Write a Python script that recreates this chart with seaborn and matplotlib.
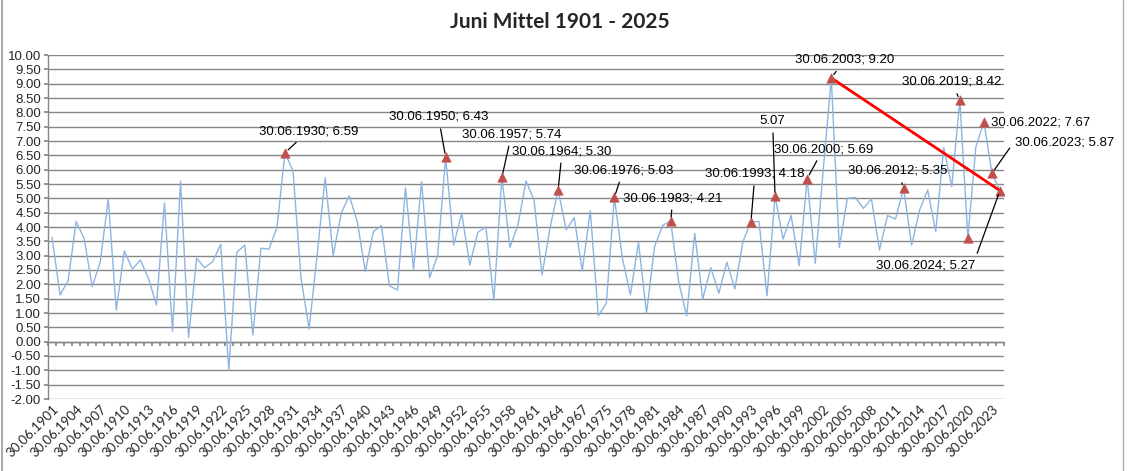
import numpy as np
import pandas as pd
import matplotlib
matplotlib.use("Agg")
import matplotlib.pyplot as plt
from matplotlib.lines import Line2D
import seaborn as sns

# ---------------- data ----------------
years = list(range(1901, 1970)) + list(range(1975, 2025))
temps = [3.64, 1.63, 2.12, 4.19, 3.60, 1.92, 2.77, 4.98, 1.10, 3.17,
         2.53, 2.85, 2.21, 1.28, 4.83, 0.37, 5.60, 0.15, 2.91, 2.58,
         2.79, 3.40, -0.99, 3.12, 3.37, 0.23, 3.26, 3.23, 3.98, 6.59,
         5.95, 2.21, 0.44, 3.02, 5.72, 3.00, 4.48, 5.09, 4.19, 2.44,
         3.84, 4.05, 1.95, 1.80, 5.37, 2.53, 5.58, 2.23, 3.00, 6.43,
         3.37, 4.48, 2.67, 3.81, 4.01, 1.45, 5.74, 3.29, 4.07, 5.60,
         4.94, 2.33, 3.98, 5.30, 3.90, 4.33, 2.47, 4.57, 0.90, 1.34,
         5.03, 2.91, 1.63, 3.47, 0.99, 3.31, 4.05, 4.21, 2.09, 0.90,
         3.78, 1.49, 2.58, 1.69, 2.77, 1.84, 3.49, 4.18, 4.19, 1.60,
         5.07, 3.58, 4.40, 2.65, 5.69, 2.73, 6.00, 9.20, 3.28, 5.00,
         5.03, 4.65, 4.98, 3.20, 4.40, 4.28, 5.35, 3.37, 4.59, 5.29,
         3.84, 6.77, 5.41, 8.42, 3.63, 6.80, 7.67, 5.87, 5.27]
date_labels = [f"30.06.{y}" for y in years]
marked_years = [1930, 1950, 1957, 1964, 1976, 1983, 1993, 1996, 2000,
                2003, 2012, 2019, 2020, 2022, 2023, 2024]
value_only_years = [1996]
trend_years = [2003, 2024]
y_ticks = [-2.0, -1.5, -1.0, -0.5, 0.0, 0.5, 1.0, 1.5, 2.0, 2.5, 3.0, 3.5,
           4.0, 4.5, 5.0, 5.5, 6.0, 6.5, 7.0, 7.5, 8.0, 8.5, 9.0, 9.5, 10.0]
title = "Juni Mittel 1901 - 2025"

# label placement (text centre in axis data coordinates) -- layout only
label_pos = {1930: (31.9, 7.34), 1950: (48.1, 7.84), 1957: (57.2, 7.24),
             1964: (63.5, 6.65), 1976: (71.1, 5.98), 1983: (77.3, 5.01),
             1993: (87.5, 5.85), 1996: (89.7, 7.70), 2000: (96.0, 6.72),
             2003: (98.7, 9.83), 2012: (105.3, 5.96), 2019: (112.0, 9.06),
             2022: (123.1, 7.66), 2023: (126.0, 6.96), 2024: (108.7, 2.67)}
no_leader = [2022]
elbow_leader = {2024: "angle,angleA=0,angleB=70,rad=0",
                2023: "angle,angleA=0,angleB=55,rad=0"}

df = pd.DataFrame({"pos": np.arange(len(years)), "year": years,
                   "temp": temps, "label": date_labels})

# ---------------- style ----------------
sns.set_theme(style="white")
plt.rcParams["font.family"] = ["Liberation Sans", "DejaVu Sans"]
GRID = "#868686"

fig = plt.figure(figsize=(11.27, 4.71), dpi=100)
ax = fig.add_axes([48 / 1127, 1 - 399 / 471, (1004 - 48) / 1127, (399 - 55) / 471])

sns.lineplot(data=df, x="pos", y="temp", ax=ax, color="#8DB4E2",
             linewidth=1.0, sort=False, zorder=3)
mk = df[df["year"].isin(marked_years)]
sns.scatterplot(data=mk, x="pos", y="temp", ax=ax, marker="^", s=45,
                color="#C0504D", edgecolor="#C0504D", linewidth=0.5, zorder=5)
tr = df[df["year"].isin(trend_years)]
sns.lineplot(data=tr, x="pos", y="temp", ax=ax, color="#FF0000",
             linewidth=2.0, sort=False, zorder=4)

n = len(years)
ax.set_xlim(-0.5, n - 0.5)
ax.set_ylim(-2, 10)
ax.set_xlabel("")
ax.set_ylabel("")

ax.set_yticks(y_ticks)
ax.set_yticklabels([f"{v:.2f}" for v in y_ticks], fontsize=9.5,
                   family=["Liberation Sans", "DejaVu Sans"])
ax.tick_params(axis="y", direction="out", length=3, color=GRID, pad=2,
               left=True)
ax.yaxis.grid(True, color=GRID, linewidth=1.0)
ax.xaxis.grid(False)
for s in ["top", "right"]:
    ax.spines[s].set_visible(False)
ax.spines["left"].set_color(GRID)
ax.spines["left"].set_linewidth(1.0)
ax.spines["bottom"].set_position(("data", 0))
ax.spines["bottom"].set_color(GRID)
ax.spines["bottom"].set_linewidth(1.0)
ax.set_xticks(np.arange(-0.5, n, 1.0))
ax.tick_params(axis="x", direction="out", length=3, color=GRID,
               labelbottom=False, bottom=True)

sec = ax.secondary_xaxis("bottom")
sec.set_xticks(df["pos"].values[::3], labels=df["label"].values[::3])
sec.tick_params(length=0, pad=3)
sec.spines["bottom"].set_visible(False)
for lab in sec.get_xticklabels():
    lab.set_rotation(45)
    lab.set_ha("right")
    lab.set_rotation_mode("anchor")
    lab.set_fontsize(9.5)
    lab.set_family(["Lato", "DejaVu Sans"])

# annotations
for _, r in mk.iterrows():
    yr = r["year"]
    if yr not in label_pos:
        continue
    txt = f"{r['temp']:.2f}" if yr in value_only_years else f"{r['label']}; {r['temp']:.2f}"
    if yr in no_leader:
        arrow = None
    else:
        arrow = dict(arrowstyle="-", color="black", lw=0.9, shrinkA=2, shrinkB=3)
        if yr in elbow_leader:
            arrow["connectionstyle"] = elbow_leader[yr]
    ax.annotate(txt, xy=(r["pos"], r["temp"]), xytext=label_pos[yr],
                ha="center", va="center", fontsize=9.5, color="black",
                arrowprops=arrow, annotation_clip=False, zorder=6)

fig.text(560 / 1127, 1 - 22 / 471, title, ha="center", va="center",
         fontsize=15, fontweight="bold", family=["Lato", "DejaVu Sans"])

# outer frame lines of the sheet screenshot
fig.add_artist(Line2D([1.5 / 1127, 1.5 / 1127], [0, 1], transform=fig.transFigure,
                      color="#9A9A9A", lw=1.2))
fig.add_artist(Line2D([1123 / 1127, 1123 / 1127], [0, 1], transform=fig.transFigure,
                      color="#B0B0B0", lw=1.0))

fig.savefig("out.png", dpi=100, facecolor="white")
